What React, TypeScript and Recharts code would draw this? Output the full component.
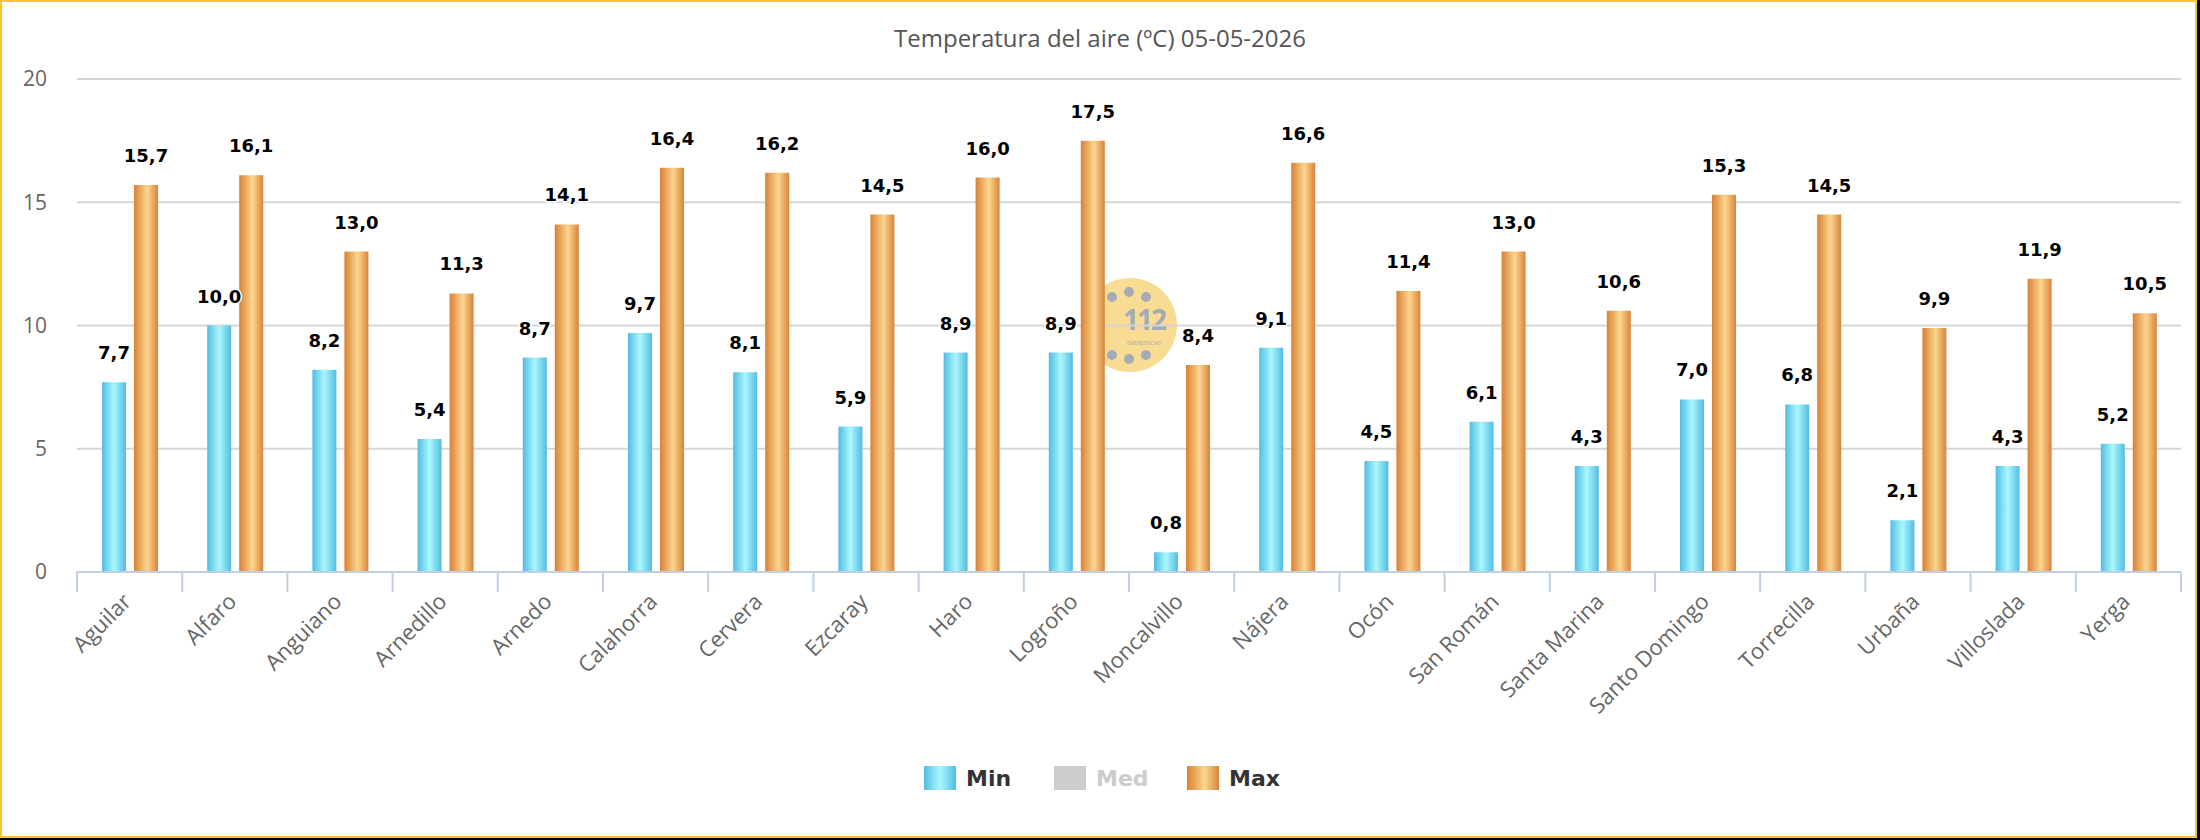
import { Bar, BarChart, CartesianGrid, LabelList, XAxis, YAxis } from "recharts";

const stations = [
  "Aguilar", "Alfaro", "Anguiano", "Arnedillo", "Arnedo", "Calahorra", "Cervera",
  "Ezcaray", "Haro", "Logroño", "Moncalvillo", "Nájera", "Ocón", "San Román",
  "Santa Marina", "Santo Domingo", "Torrecilla", "Urbaña", "Villoslada", "Yerga",
];
const minTemps = [7.7, 10.0, 8.2, 5.4, 8.7, 9.7, 8.1, 5.9, 8.9, 8.9, 0.8, 9.1, 4.5, 6.1, 4.3, 7.0, 6.8, 2.1, 4.3, 5.2];
const maxTemps = [15.7, 16.1, 13.0, 11.3, 14.1, 16.4, 16.2, 14.5, 16.0, 17.5, 8.4, 16.6, 11.4, 13.0, 10.6, 15.3, 14.5, 9.9, 11.9, 10.5];
const yTicks = [0, 5, 10, 15, 20];
const legendLabels = ["Min", "Med", "Max"];
const chartTitle = "Temperatura del aire (ºC) 05-05-2026";

const rows = stations.map((name, i) => ({ name, min: minTemps[i], max: maxTemps[i] }));

const W = 2200;
const H = 840;
const PLOT_LEFT = 77;
const PLOT_RIGHT = 2181;
const PLOT_TOP = 79;
const PLOT_BOTTOM = 572;
const X_AXIS_H = 120;
const BAND = (PLOT_RIGHT - PLOT_LEFT) / stations.length;

const AXIS_BLUE = "#c0d0e0";
const SANS = "'Open Sans', 'DejaVu Sans', sans-serif";
const BOLD = "'DejaVu Sans', Verdana, sans-serif";

const minGradient = "linear-gradient(to right, #52bce1, #aaf7fd 50%, #52bce1)";
const maxGradient = "linear-gradient(to right, #d98135, #fcd68e 55%, #d9843a)";
const legendSwatches = [minGradient, "#cccccc", maxGradient];
const legendColors = ["#333", "#cccccc", "#333"];

const fmt = (v: any) => Number(v).toFixed(1).replace(".", ",");

function StationTick({ x, y, payload, index }: any) {
  const left = x - BAND / 2;
  const ax = x + 3;
  const ay = y + 31;
  return (
    <g>
      <line x1={left} x2={left} y1={PLOT_BOTTOM} y2={PLOT_BOTTOM + 20} stroke={AXIS_BLUE} strokeWidth={2} />
      {index === stations.length - 1 && (
        <line x1={x + BAND / 2} x2={x + BAND / 2} y1={PLOT_BOTTOM} y2={PLOT_BOTTOM + 20} stroke={AXIS_BLUE} strokeWidth={2} />
      )}
      <text
        x={ax}
        y={ay}
        transform={`rotate(-45 ${ax} ${ay})`}
        textAnchor="end"
        fill="#666"
        fontSize={22}
        fontFamily={SANS}
      >
        {payload.value}
      </text>
    </g>
  );
}

// 112 badge sitting behind the plot
function Badge() {
  const dots = [
    [1112, 297], [1129, 292], [1146, 297],
    [1112, 355], [1129, 359], [1146, 355],
  ];
  return (
    <svg width={W} height={H} style={{ position: "absolute", left: 0, top: 0 }}>
      <circle cx={1130} cy={325} r={47} fill="#f9dc94" />
      {dots.map(([cx, cy], i) => (
        <circle key={i} cx={cx} cy={cy} r={5} fill="#a3abb6" />
      ))}
      <text x={1144} y={330} textAnchor="middle" fontSize={28} fontWeight="bold" fill="#a3abb6" fontFamily={SANS} letterSpacing={-2}>
        112
      </text>
      <text x={1144} y={345} textAnchor="middle" fontSize={5} fill="#a3abb6" fontFamily={SANS}>
        EMERGENCIAS
      </text>
    </svg>
  );
}

export default function App() {
  const labelProps = {
    position: "top" as const,
    offset: 23,
    formatter: fmt,
    fill: "#000",
    fontSize: 18,
    fontWeight: "bold",
    fontFamily: BOLD,
    stroke: "#fff",
    strokeWidth: 3,
    strokeLinejoin: "round" as const,
    style: { paintOrder: "stroke" },
  };

  return (
    <div style={{ position: "relative", width: W, height: H, background: "#000" }}>
      <style>{"body{margin:0}"}</style>
      <div
        style={{
          position: "absolute",
          left: 0,
          top: 0,
          width: 2197,
          height: 838,
          boxSizing: "border-box",
          border: "2px solid #f8c52f",
          background: "#fff",
        }}
      />
      <Badge />
      <div
        style={{
          position: "absolute",
          left: 0,
          top: 21,
          width: W,
          textAlign: "center",
          fontFamily: SANS,
          fontSize: 24,
          lineHeight: "33px",
          color: "#555",
        }}
      >
        {chartTitle}
      </div>
      <div style={{ position: "absolute", left: 0, top: 0 }}>
        <BarChart
          width={W}
          height={H}
          data={rows}
          barSize={24}
          barGap={8}
          margin={{ top: PLOT_TOP, right: W - PLOT_RIGHT, bottom: H - PLOT_BOTTOM - X_AXIS_H, left: 0 }}
        >
          <defs>
            <linearGradient id="minFill" x1="0" y1="0" x2="1" y2="0">
              <stop offset="0%" stopColor="#52bce1" />
              <stop offset="50%" stopColor="#aaf7fd" />
              <stop offset="100%" stopColor="#52bce1" />
            </linearGradient>
            <linearGradient id="maxFill" x1="0" y1="0" x2="1" y2="0">
              <stop offset="0%" stopColor="#d98135" />
              <stop offset="55%" stopColor="#fcd68e" />
              <stop offset="100%" stopColor="#d9843a" />
            </linearGradient>
          </defs>
          <CartesianGrid vertical={false} stroke="#d6d6d6" strokeWidth={2} />
          <XAxis
            dataKey="name"
            interval={0}
            height={X_AXIS_H}
            tickSize={0}
            tickMargin={0}
            tickLine={false}
            axisLine={{ stroke: AXIS_BLUE, strokeWidth: 2 }}
            tick={<StationTick />}
          />
          <YAxis
            domain={[0, 20]}
            ticks={yTicks}
            width={PLOT_LEFT}
            axisLine={false}
            tickLine={false}
            tickSize={0}
            tickMargin={30}
            tick={{ fill: "#666", fontSize: 21, fontFamily: SANS }}
          />
          <Bar dataKey="min" fill="url(#minFill)" isAnimationActive={false}>
            <LabelList dataKey="min" {...labelProps} />
          </Bar>
          <Bar dataKey="max" fill="url(#maxFill)" isAnimationActive={false}>
            <LabelList dataKey="max" {...labelProps} />
          </Bar>
        </BarChart>
      </div>
      {legendLabels.map((label, i) => (
        <div
          key={label}
          style={{
            position: "absolute",
            left: 924 + i * 130 + (i === 2 ? 3 : 0),
            top: 766,
            display: "flex",
            alignItems: "center",
            height: 24,
          }}
        >
          <div style={{ width: 32, height: 24, background: legendSwatches[i] }} />
          <span
            style={{
              marginLeft: 10,
              fontFamily: BOLD,
              fontWeight: "bold",
              fontSize: 22,
              color: legendColors[i],
            }}
          >
            {label}
          </span>
        </div>
      ))}
    </div>
  );
}
